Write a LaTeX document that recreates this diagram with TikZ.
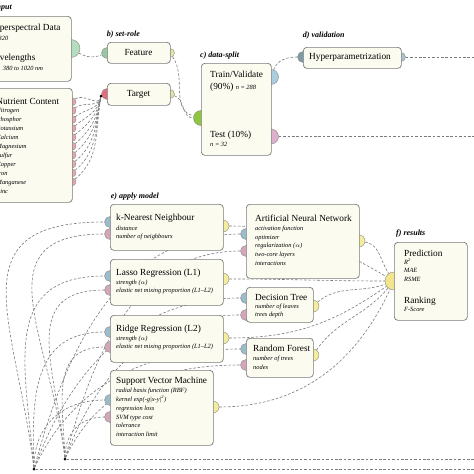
\documentclass[tikz,border=0pt]{standalone}
\usepackage{fontspec}
\setmainfont{Liberation Serif}
\pgfdeclarelayer{back}
\pgfdeclarelayer{bg}
\pgfsetlayers{back,bg,main}
\definecolor{boxfill}{HTML}{FCFBF0}
\definecolor{boxline}{HTML}{7A7A7A}
\definecolor{congray}{HTML}{7A7A7A}
\definecolor{portedge}{HTML}{8A8A8A}
\definecolor{mint}{HTML}{B5DDBF}
\definecolor{fgreen}{HTML}{97C9A0}
\definecolor{lyg}{HTML}{DCE8A8}
\definecolor{tred}{HTML}{E56A7E}
\definecolor{salmon}{HTML}{EBA5AE}
\definecolor{lime}{HTML}{8DC63F}
\definecolor{dsblue}{HTML}{A9CEDD}
\definecolor{dslilac}{HTML}{DDB0CB}
\definecolor{slate}{HTML}{7E9AA6}
\definecolor{hpblue}{HTML}{A8C4D0}
\definecolor{mblue}{HTML}{9BBCCB}
\definecolor{mpink}{HTML}{D4A6BC}
\definecolor{myellow}{HTML}{F4ED9E}
\definecolor{ryellow}{HTML}{F2E58C}
\tikzset{
  box/.style={draw=boxline, fill=boxfill, rounded corners=3.5pt, line width=0.7pt, inner sep=0, anchor=north west},
  port/.style={circle, fill=#1, draw=portedge, line width=0.4pt, inner sep=0},
  pS/.style={minimum size=9pt},
  pN/.style={minimum size=8pt},
  pM/.style={minimum size=11pt},
  pY/.style={minimum size=12pt},
  pL/.style={minimum size=15pt},
  pXL/.style={minimum size=18pt},
  blackdot/.style={circle, fill=black, inner sep=0, minimum size=3pt},
  con/.style={draw=congray, dash pattern=on 2.6pt off 1.8pt, line width=0.6pt},
  hd/.style={font=\fontsize{9.3}{11}\selectfont, anchor=base west, inner sep=0},
  it/.style={font=\fontsize{6.4}{8}\selectfont\itshape, anchor=base west, inner sep=0},
  ttl/.style={font=\fontsize{8}{9}\selectfont\bfseries\itshape, anchor=base west, inner sep=0},
}
\newcommand\itemlist[5]{%
  \foreach \t [count=\i from 0] in {#5} \node[it] (#1\i) at (#2,{#3+#4*\i}) {\t};}
\begin{document}
\begin{tikzpicture}[x=1pt,y=-1pt]
\useasboundingbox (0,0) rectangle (474,474);
\begin{pgfonlayer}{back}
  \fill[white] (0,0) rectangle (474,474);
\end{pgfonlayer}
\begin{scope}
\clip (0,0) rectangle (474,474);
% ---------- ports (drawn below the boxes)
\node[port=mint, pXL] (hypP) at (71,48.5) {};
\foreach \k in {0,...,9} \node[port=salmon, pN] (nut\k) at (72,{101.7+8.9*\k}) {};
\node[port=fgreen, pM] (featL) at (107,53) {};
\node[port=lyg, pS] (featR) at (170,53) {};
\node[port=tred, pM] (targL) at (107,94) {};
\node[port=lyg, pS] (targR) at (170,94) {};
\node[port=lime, pL] (dsL) at (201,118) {};
\node[port=dsblue, pL] (dsB) at (271,77) {};
\node[port=dslilac, pL] (dsP) at (271,136.5) {};
\node[port=slate, pM] (hpL) at (303,57) {};
\node[port=hpblue, pS] (hpR) at (401,57) {};
\node[port=mblue, pM] (knnB) at (110,222) {};
\node[port=mpink, pM] (knnP) at (110,234) {};
\node[port=myellow, pY] (knnY) at (223,226) {};
\node[port=mblue, pM] (lasB) at (110,276) {};
\node[port=mpink, pM] (lasP) at (110,290) {};
\node[port=myellow, pY] (lasY) at (223,279) {};
\node[port=mblue, pM] (ridB) at (110,332) {};
\node[port=mpink, pM] (ridP) at (110,347) {};
\node[port=myellow, pY] (ridY) at (223,338) {};
\node[port=mblue, pM] (svmB) at (110,400) {};
\node[port=mpink, pM] (svmP) at (110,417) {};
\node[port=myellow, pY] (svmY) at (213,407) {};
\node[port=mblue, pM] (annB) at (246,234) {};
\node[port=mpink, pM] (annP) at (246,251) {};
\node[port=myellow, pY] (annY) at (359,241) {};
\node[port=mblue, pM] (dtB) at (246,298) {};
\node[port=mpink, pM] (dtP) at (246,315) {};
\node[port=myellow, pY] (dtY) at (313,306) {};
\node[port=mblue, pM] (rfB) at (246,349) {};
\node[port=mpink, pM] (rfP) at (246,365) {};
\node[port=myellow, pY] (rfY) at (313,355) {};
\node[port=ryellow, pXL] (resY) at (394,281) {};
% ---------- boxes
\node[box, minimum width=101pt, minimum height=65pt] (hyp) at (-30,16) {};
\node[box, minimum width=102pt, minimum height=114pt] (nut) at (-30,88) {};
\node[box, minimum width=63pt, minimum height=21pt] (feat) at (107,42) {};
\node[box, minimum width=63pt, minimum height=22pt] (targ) at (107,83) {};
\node[box, minimum width=70pt, minimum height=92pt] (ds) at (201,63) {};
\node[box, minimum width=98pt, minimum height=21pt] (hp) at (303,47) {};
\node[box, minimum width=113pt, minimum height=46pt] (knn) at (110,204) {};
\node[box, minimum width=113pt, minimum height=46pt] (las) at (110,259) {};
\node[box, minimum width=113pt, minimum height=47pt] (rid) at (110,315) {};
\node[box, minimum width=103pt, minimum height=75pt] (svm) at (110,370) {};
\node[box, minimum width=113pt, minimum height=74pt] (ann) at (246,204) {};
\node[box, minimum width=67pt, minimum height=35pt] (dt) at (246,287) {};
\node[box, minimum width=67pt, minimum height=39pt] (rf) at (246,338) {};
\node[box, minimum width=73pt, minimum height=78pt] (res) at (394,242) {};
\node[blackdot] (tdot) at (101,96) {};
\node[blackdot] (dot1) at (65,459) {};
\node[blackdot] (dot2) at (34,469) {};
% ---------- titles
\node[ttl, anchor=base east] (tA) at (12,9.3) {a) input};
\node[ttl] (tB) at (106.7,36) {b) set-role};
\node[ttl] (tC) at (200,57.3) {c) data-split};
\node[ttl] (tD) at (302.7,37.7) {d) validation};
\node[ttl] (tE) at (110.7,198.3) {e) apply model};
\node[ttl] (tF) at (396,235) {f) results};
% ---------- texts
\node[hd, anchor=base east] (hypT) at (60.7,30.7) {Hyperspectral Data};
\node[it, anchor=base east] (hypN) at (8.5,40) {n = 320};
\node[hd, anchor=base east] (hypW) at (35.7,60) {Wavelengths};
\node[it] (hypR) at (2.7,70) {380 to 1020 nm};
\node[hd, anchor=base east] (nutT) at (59.3,104) {Nutrient Content};
\itemlist{nutI}{-3.5}{112.3}{9}{Nitrogen,Phosphor,Potassium,Calcium,Magnesium,Sulfur,Copper,Iron,Manganese,Zinc}
\node[hd, anchor=base] (featT) at (138.5,55.7) {Feature};
\node[hd, anchor=base] (targT) at (138.5,96) {Target};
\node[hd] (dsT1) at (210,77.3) {Train/Validate};
\node[hd] (dsT2) at (210,89) {(90\%) {\fontsize{6.4}{8}\selectfont\itshape n = 288}};
\node[hd] (dsT3) at (210,137.3) {Test (10\%)};
\node[it] (dsT4) at (210,146) {n = 32};
\node[hd] (hpT) at (309,59) {Hyperparametrization};
\node[hd] (knnT) at (116,220.7) {k-Nearest Neighbour};
\itemlist{knnI}{116}{230}{8.5}{distance,number of neighbours}
\node[hd] (lasT) at (116,275) {Lasso Regression (L1)};
\itemlist{lasI}{116}{284.3}{8.5}{strength ($\alpha$),elastic net mixing proportion (L1–L2)}
\node[hd] (ridT) at (116,331.7) {Ridge Regression (L2)};
\itemlist{ridI}{116}{340.3}{8.5}{strength ($\alpha$),elastic net mixing proportion (L1–L2)}
\node[hd] (svmT) at (116,383.3) {Support Vector Machine};
\itemlist{svmI}{116}{392.3}{8.9}{radial basis function (RBF),{kernel exp(-g|x-y|\textsuperscript{2})},regression loss,SVM type cost,tolerance,interaction limit}
\node[hd] (annT) at (255,221.7) {Artificial Neural Network};
\itemlist{annI}{255}{230.3}{8.7}{activation function,optimizer,regularization ($\alpha$),two-core layers,interactions}
\node[hd] (dtT) at (255,300) {Decision Tree};
\itemlist{dtI}{255}{308.3}{8.4}{number of leaves,trees depth}
\node[hd] (rfT) at (253,351) {Random Forest};
\itemlist{rfI}{253}{360}{9}{number of trees,nodes}
\node[hd] (resT1) at (404,256) {Prediction};
\itemlist{resI}{404}{264}{8.7}{R\textsuperscript{2},MAE,RSME}
\node[hd] (resT2) at (404,303.3) {Ranking};
\node[it] (resT3) at (404,311.7) {F-Score};
\coordinate (eHP) at (474,57);
\coordinate (eTest) at (474,136.5);
\coordinate (eB1) at (474,459);
\coordinate (eB2) at (474,469);
\end{scope}
% ---------- connectors (behind everything)
\begin{pgfonlayer}{bg}
\clip (0,0) rectangle (474,474);
\draw[con] (hypP) to[out=-30,in=200] (featL);
\foreach \k in {0,...,9} \draw[con] (nut\k) to[out=40,in=-100] (tdot);
\draw[con] (tdot) -- (targL);
\draw[con] (featR) to[out=-55,in=165] (dsL);
\draw[con] (targR) to[out=-20,in=180] (dsL);
\draw[con] (dsB) to[out=70,in=180] (hpL);
\draw[con] (hpR) -- (eHP);
\draw[con] (dsP) -- (eTest);
\draw[con] (eB1) -- (dot1);
\draw[con] (eB2) -- (dot2);
\draw[con] (dot2) to[out=97,in=180,looseness=1.5] (knnB);
\draw[con] (dot1) to[out=97,in=180,looseness=1.4] (knnP);
\draw[con] (dot2) to[out=95,in=180,looseness=1.3] (lasB);
\draw[con] (dot1) to[out=95,in=180,looseness=1.3] (lasP);
\draw[con] (dot2) to[out=92,in=180,looseness=1.2] (ridB);
\draw[con] (dot1) to[out=92,in=180,looseness=1.2] (ridP);
\draw[con] (dot2) to[out=90,in=180,looseness=1.1] (svmB);
\draw[con] (dot1) to[out=90,in=180,looseness=1.1] (svmP);
\draw[con] (dot2) to[out=75,in=180] (annB);
\draw[con] (dot1) to[out=75,in=180] (annP);
\draw[con] (dot2) to[out=70,in=180] (dtB);
\draw[con] (dot1) to[out=70,in=180] (dtP);
\draw[con] (dot2) to[out=65,in=180] (rfB);
\draw[con] (dot1) to[out=65,in=180] (rfP);
\draw[con] (knnY) to[out=0,in=150] (resY);
\draw[con] (annY) to[out=-10,in=125] (resY);
\draw[con] (lasY) to[out=0,in=180] (resY);
\draw[con] (dtY) to[out=40,in=200] (resY);
\draw[con] (ridY) to[out=0,in=215] (resY);
\draw[con] (rfY) to[out=55,in=230] (resY);
\draw[con] (svmY) to[out=0,in=245] (resY);
\end{pgfonlayer}
\end{tikzpicture}
\end{document}
